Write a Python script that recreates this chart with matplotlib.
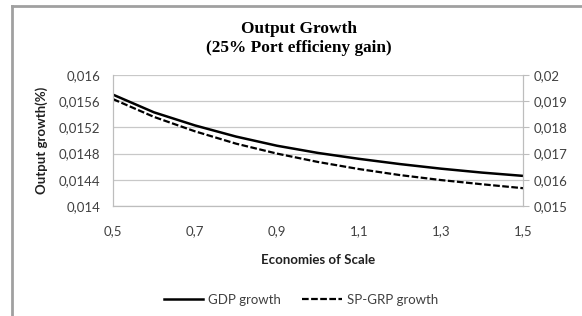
import matplotlib
matplotlib.use("Agg")
import matplotlib.pyplot as plt
from matplotlib.lines import Line2D

scale = [0.5, 0.6, 0.7, 0.8, 0.9, 1.0, 1.1, 1.2, 1.3, 1.4, 1.5]
gdp_growth = [0.01570, 0.01543, 0.01523, 0.01506, 0.01492, 0.01481,
              0.01472, 0.01464, 0.01457, 0.01451, 0.01446]
spgrp_growth = [0.01908, 0.01840, 0.01785, 0.01738, 0.01700, 0.01668,
                0.01641, 0.01618, 0.01599, 0.01583, 0.01568]
x_ticks = [0.5, 0.7, 0.9, 1.1, 1.3, 1.5]
left_ticks = [0.014, 0.0144, 0.0148, 0.0152, 0.0156, 0.016]
right_ticks = [0.015, 0.016, 0.017, 0.018, 0.019, 0.02]

def comma(v, nd):
    s = f"{v:.{nd}f}".rstrip("0")
    return s.replace(".", ",")

W, H = 582, 316
fig = plt.figure(figsize=(W / 100, H / 100), dpi=100)
fig.patch.set_facecolor("white")

# outer border (left & top visible)
fig.add_artist(Line2D([12 / W, 12 / W], [0, 1 - 5.5 / H], color="#a0a0a0", lw=2.0))
fig.add_artist(Line2D([12 / W, 1], [1 - 5.5 / H, 1 - 5.5 / H], color="#a0a0a0", lw=2.0))

ax = fig.add_axes([113 / W, 1 - 206 / H, (523 - 113) / W, (206 - 75) / H])
ax2 = ax.twinx()

tickfont = dict(family="Lato", size=9.5, color="#404040")
dash = (0, (3.0, 1.1))

ax.plot(scale, gdp_growth, color="black", lw=1.8, solid_capstyle="butt")
ax2.plot(scale, spgrp_growth, color="black", lw=1.6, ls=dash)

ax.set_xlim(0.5, 1.5)
ax.set_ylim(0.014, 0.016)
ax2.set_ylim(0.015, 0.02)
ax.set_xticks(x_ticks)
ax.set_xticklabels([comma(v, 1) for v in x_ticks], **tickfont)
ax.set_yticks(left_ticks)
ax.set_yticklabels([comma(v, 4) for v in left_ticks], **tickfont)
ax2.set_yticks(right_ticks)
ax2.set_yticklabels([comma(v, 3) for v in right_ticks], **tickfont)

ax.grid(axis="y", color="#c8c8c8", lw=0.9)
ax.set_axisbelow(True)
for a in (ax, ax2):
    a.spines["top"].set_visible(False)
    a.spines["left"].set_color("#bdbdbd")
    a.spines["bottom"].set_color("#bdbdbd")
    a.spines["right"].set_color("#bdbdbd")
ax.tick_params(axis="y", length=0, pad=9)
ax.tick_params(axis="x", length=0, pad=14)
ax2.tick_params(axis="y", length=4, color="#bdbdbd", pad=4)

ax.set_xlabel("Economies of Scale", family="Lato", fontweight="bold", size=9.5,
              color="#202020", labelpad=12)
ax.set_ylabel("Output growth(%)", family="Lato", fontweight="bold", size=9.5,
              color="#202020", labelpad=8)

fig.text(299 / W, 1 - 29 / H, "Output Growth", family="Liberation Serif",
         fontweight="bold", size=12.4, ha="center", va="center")
fig.text(299 / W, 1 - 48.5 / H, "(25% Port efficieny gain)", family="Liberation Serif",
         fontweight="bold", size=12.4, ha="center", va="center")

handles = [Line2D([], [], color="black", lw=1.8),
           Line2D([], [], color="black", lw=1.6, ls=dash)]
leg = fig.legend(handles, ["GDP growth", "SP-GRP growth"], loc="center",
                 bbox_to_anchor=(301 / W, 1 - 300 / H), ncol=2, frameon=False,
                 prop=dict(family="Lato", size=9.5), handlelength=3.0,
                 handletextpad=0.4, columnspacing=1.6)
for t in leg.get_texts():
    t.set_color("#404040")

fig.savefig("out.png", dpi=100)
